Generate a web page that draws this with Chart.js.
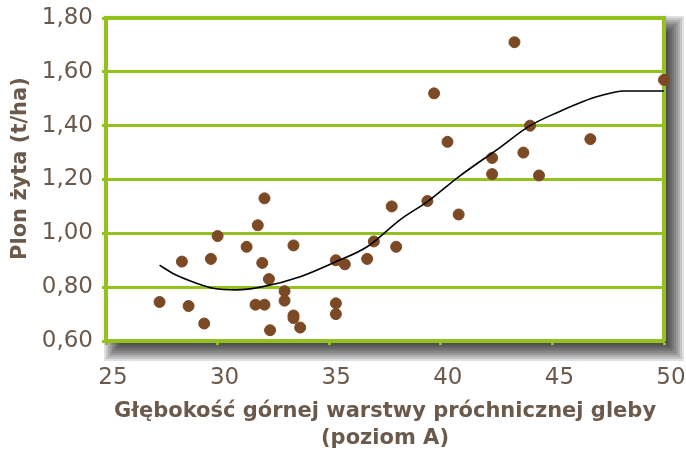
<!DOCTYPE html>
<html>
<head>
<meta charset="utf-8">
<script src="https://cdn.jsdelivr.net/npm/chart.js@4/dist/chart.umd.min.js"></script>
<style>
  html, body { margin: 0; padding: 0; background: #fff; }
  #wrap { width: 686px; height: 452px; }
</style>
</head>
<body>
<div id="wrap"><canvas id="c" width="686" height="452"></canvas></div>
<script>
// measured samples: depth of humus layer (cm) vs rye yield (t/ha)
const depthX = [43.3, 50.0, 39.7, 44.0, 40.3, 46.7, 42.3, 43.7, 42.3, 44.4,
                37.8, 39.4, 40.8, 38.0,
                32.1, 31.8, 30.0, 31.3, 33.4, 28.4, 29.7, 32.0, 37.0, 36.7,
                35.3, 35.7, 32.3, 33.0, 33.0, 27.4, 28.7, 31.7, 32.1, 35.3,
                35.3, 33.4, 33.4, 29.4, 32.35, 33.7];
const yieldY = [1.71, 1.57, 1.52, 1.40, 1.34, 1.35, 1.28, 1.30, 1.22, 1.215,
                1.10, 1.12, 1.07, 0.95,
                1.13, 1.03, 0.99, 0.95, 0.955, 0.895, 0.905, 0.89, 0.97, 0.905,
                0.90, 0.885, 0.83, 0.785, 0.75, 0.745, 0.73, 0.735, 0.735, 0.74,
                0.70, 0.695, 0.685, 0.665, 0.64, 0.65];

// trend curve
const trendX = [27.4, 28.0, 29.05, 29.8, 30.84, 32.03, 33.7, 35.2, 36.7, 38.2, 39.4,
                40.8, 42.6, 44.0, 45.3, 46.35, 47.1, 48.2, 50.0];
const trendY = [0.882, 0.851, 0.815, 0.796, 0.790, 0.802, 0.839, 0.891, 0.95, 1.052, 1.118,
                1.21, 1.316, 1.40, 1.452, 1.489, 1.51, 1.529, 1.529];

const xTicks = [25, 30, 35, 40, 45, 50];
const yTicks = [0.6, 0.8, 1.0, 1.2, 1.4, 1.6, 1.8];

const green = "#95c11f";
const textCol = "#6b5a4c";
const brown = "#7b4a24";
const numFont = "'DejaVu Sans', sans-serif";
const titleFont = "'DejaVu Sans', sans-serif";

const frame = {
    id: "frame",
    beforeDraw(chart) {
        const { ctx, chartArea: a } = chart;
        const w = a.right - a.left, h = a.bottom - a.top;
        ctx.save();
        // faint halo on the top/left
        ctx.fillStyle = "rgba(0,0,0,0.03)";
        ctx.fillRect(a.left - 4, a.top - 4, w + 8, h + 8);
        // soft drop shadow, built from stacked translucent rects
        const off = 9, spread = 11;
        ctx.fillStyle = "rgba(0,0,0,0.12)";
        for (let k = 0; k < spread; k++) {
            ctx.fillRect(a.left + off - spread + k * 2, a.top + off - spread + k * 2,
                         w + 2 * spread - k * 4, h + 2 * spread - k * 4);
        }
        ctx.fillStyle = "#fff";
        ctx.fillRect(a.left, a.top, w, h);
        ctx.restore();
    },
    beforeDatasetsDraw(chart) {
        const { ctx, chartArea: a } = chart;
        ctx.save();
        ctx.strokeStyle = green;
        ctx.lineWidth = 4;
        ctx.beginPath();
        ctx.moveTo(a.left, a.top);
        ctx.lineTo(a.right, a.top);
        ctx.lineTo(a.right, a.bottom);
        ctx.stroke();
        ctx.restore();
    }
};

new Chart(document.getElementById("c"), {
    type: "scatter",
    data: {
        datasets: [
            {
                type: "line",
                label: "trend",
                data: trendX.map((x, i) => ({ x: x, y: trendY[i] })),
                borderColor: "#000",
                borderWidth: 1.6,
                pointRadius: 0,
                cubicInterpolationMode: "monotone",
                fill: false,
            },
            {
                label: "plon",
                data: depthX.map((x, i) => ({ x: x, y: yieldY[i] })),
                backgroundColor: brown,
                borderColor: brown,
                pointRadius: 5.5,
                clip: false,
            },
        ],
    },
    options: {
        responsive: false,
        animation: false,
        layout: { padding: { top: 18, right: 22, left: 0, bottom: 0 } },
        plugins: { legend: { display: false }, tooltip: { enabled: false } },
        scales: {
            x: {
                type: "linear",
                min: 25,
                max: 50,
                afterBuildTicks: (s) => { s.ticks = xTicks.map((v) => ({ value: v })); },
                afterFit: (s) => { s.height = 111; s.paddingLeft = 0; s.paddingRight = 0; },
                grid: { drawOnChartArea: false, drawTicks: true, tickLength: 4, tickWidth: 3, color: green },
                border: { color: green, width: 4 },
                ticks: { color: textCol, font: { family: numFont, size: 23 }, padding: 19, labelOffset: 7 },
                title: {
                    display: true,
                    text: ["Głębokość górnej warstwy próchnicznej gleby", "(poziom A)"],
                    color: textCol,
                    font: { family: titleFont, size: 21, weight: "bold", lineHeight: 1.3 },
                    padding: { top: 0, bottom: 0 },
                },
            },
            y: {
                min: 0.6,
                max: 1.8,
                afterBuildTicks: (s) => { s.ticks = yTicks.map((v) => ({ value: v })); },
                afterFit: (s) => { s.width = 106; s.paddingTop = 0; s.paddingBottom = 0; },
                grid: { color: green, lineWidth: 3, tickLength: 4, tickWidth: 3 },
                border: { color: green, width: 4 },
                ticks: {
                    color: textCol,
                    font: { family: numFont, size: 23 },
                    padding: 9,
                    callback: (v) => v.toFixed(2).replace(".", ","),
                },
                title: {
                    display: true,
                    text: "   Plon żyta (t/ha)",
                    color: textCol,
                    font: { family: titleFont, size: 21, weight: "bold" },
                    padding: { top: 8, bottom: 0 },
                },
            },
        },
    },
    plugins: [frame],
});
</script>
</body>
</html>
